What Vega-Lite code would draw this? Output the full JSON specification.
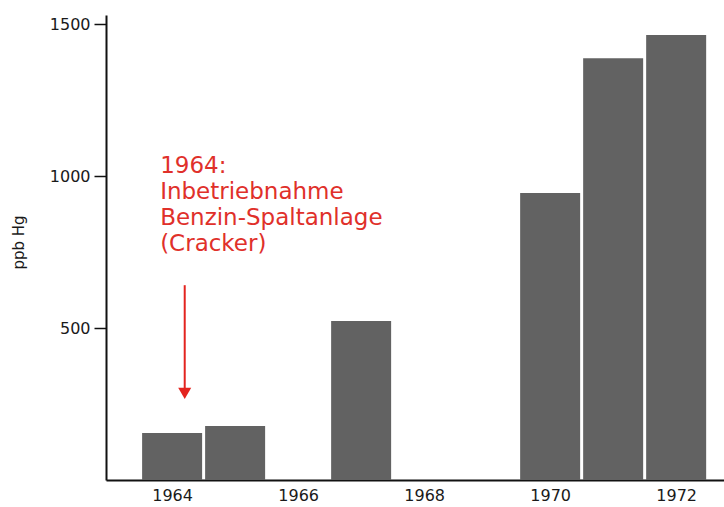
{
  "$schema": "https://vega.github.io/schema/vega-lite/v6.json",
  "width": 618,
  "height": 465,
  "autosize": "none",
  "padding": {"left": 106, "top": 15, "right": 0, "bottom": 27},
  "background": "white",
  "config": {
    "view": {"stroke": null},
    "font": "DejaVu Sans"
  },
  "layer": [
    {
      "data": {"values": [
        {"year": 1964, "hg": 155},
        {"year": 1965, "hg": 178},
        {"year": 1967, "hg": 523},
        {"year": 1970, "hg": 944},
        {"year": 1971, "hg": 1388},
        {"year": 1972, "hg": 1464}
      ]},
      "mark": {"type": "bar", "width": 60, "color": "#626262"},
      "encoding": {
        "x": {
          "field": "year", "type": "quantitative",
          "scale": {"domain": [1963.03, 1972.68], "nice": false, "zero": false},
          "axis": {
            "values": [1964, 1966, 1968, 1970, 1972],
            "format": "d",
            "title": null,
            "grid": false,
            "ticks": false,
            "domainColor": "#111",
            "domainWidth": 2,
            "labelFont": "DejaVu Sans",
            "labelFontSize": 16,
            "labelColor": "#1a1a1a",
            "labelPadding": 7
          }
        },
        "y": {
          "field": "hg", "type": "quantitative",
          "scale": {"domain": [0, 1530], "nice": false},
          "axis": {
            "values": [500, 1000, 1500],
            "format": "d",
            "title": "ppb Hg",
            "titleFont": "DejaVu Sans",
            "titleFontSize": 15,
            "titleFontWeight": "normal",
            "titleColor": "#1a1a1a",
            "titleX": -80,
            "titleY": 227,
            "grid": false,
            "tickSize": 12,
            "tickColor": "#111",
            "tickWidth": 1.5,
            "domainColor": "#111",
            "domainWidth": 2,
            "labelFont": "DejaVu Sans",
            "labelFontSize": 16,
            "labelColor": "#1a1a1a",
            "labelPadding": 4
          }
        }
      }
    },
    {
      "data": {"values": [{"x": 1964.2, "y": 641, "y2": 300}]},
      "mark": {"type": "rule", "color": "#e3241f", "strokeWidth": 2},
      "encoding": {
        "x": {"field": "x", "type": "quantitative"},
        "y": {"field": "y", "type": "quantitative"},
        "y2": {"field": "y2"}
      }
    },
    {
      "data": {"values": [{"x": 1964.2, "y": 285}]},
      "mark": {"type": "point", "shape": "triangle-down", "filled": true, "size": 170, "color": "#e3241f", "opacity": 1},
      "encoding": {
        "x": {"field": "x", "type": "quantitative"},
        "y": {"field": "y", "type": "quantitative"}
      }
    },
    {
      "data": {"values": [{"x": 1963.81, "y": 1070, "label": "1964:\nInbetriebnahme\nBenzin-Spaltanlage\n(Cracker)"}]},
      "mark": {"type": "text", "align": "left", "baseline": "top", "lineBreak": "\n", "font": "DejaVu Sans", "fontSize": 23, "lineHeight": 26, "color": "#e0302a"},
      "encoding": {
        "x": {"field": "x", "type": "quantitative"},
        "y": {"field": "y", "type": "quantitative"},
        "text": {"field": "label"}
      }
    }
  ]
}
